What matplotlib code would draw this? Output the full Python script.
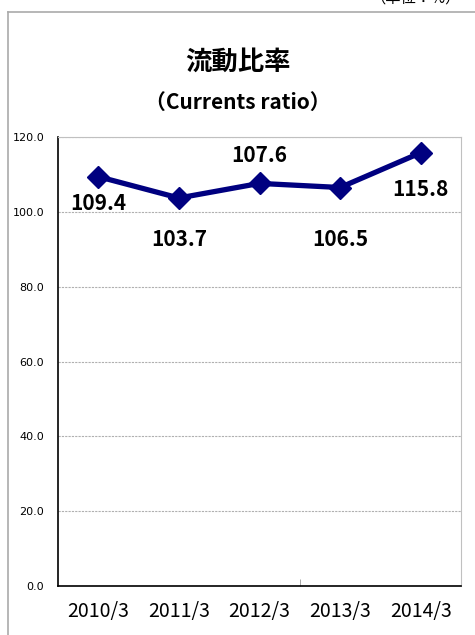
import matplotlib
matplotlib.use("Agg")
import matplotlib.pyplot as plt
from matplotlib.lines import Line2D

plt.rcParams['font.family'] = ['Noto Sans CJK JP', 'DejaVu Sans']

# data
years = ["2010/3", "2011/3", "2012/3", "2013/3", "2014/3"]
ratio = [109.4, 103.7, 107.6, 106.5, 115.8]
yticks = [0, 20, 40, 60, 80, 100, 120]

# label offsets (pixels, vertical)
label_dy = [-27, -42, 28, -52, -37]

fig = plt.figure(figsize=(4.75, 6.35), dpi=100)
ax = fig.add_axes([58/475, 49/635, 403/475, 449/635])

x = list(range(len(years)))
ax.plot(x, ratio, color="#000080", linewidth=3.8, marker="D", markersize=11,
        zorder=3, clip_on=False)

for xi, v, dy in zip(x, ratio, label_dy):
    ax.annotate(f"{v:.1f}", (xi, v), xytext=(0, dy), textcoords="offset pixels",
                ha="center", va="center", fontsize=15, fontweight="bold")

ax.set_xlim(-0.5, len(years) - 0.5)
ax.set_ylim(0, 120)
ax.set_yticks(yticks)
ax.set_yticklabels([f"{t:.1f}" for t in yticks], fontsize=8,
                   family=["DejaVu Sans"])
ax.set_xticks(x)
ax.set_xticklabels(years, fontsize=14)
ax.tick_params(axis="x", length=0, pad=11)
ax.tick_params(axis="y", length=0, pad=10)
ax.set_xticks([2.5], minor=True)
ax.tick_params(axis="x", which="minor", direction="in", length=5, color="#999999")

ax.grid(axis="y", color="#b0b0b0", linestyle=(0, (2, 1)), linewidth=0.8)
ax.set_axisbelow(True)
for s in ["top", "right"]:
    ax.spines[s].set_color("#c0c0c0")
    ax.spines[s].set_linewidth(0.8)
for s in ["left", "bottom"]:
    ax.spines[s].set_color("black")
    ax.spines[s].set_linewidth(1.2)

fig.text(0.5, 1 - 62/635, "流動比率", ha="center", va="center",
         fontsize=19, fontweight="bold")
fig.text(0.5, 1 - 102/635, "（Currents ratio）", ha="center", va="center",
         fontsize=15, fontweight="bold")
# unit note, cut off by the top edge in the reference
fig.text(416/475, 1 - 3/635, "（単位：%）", ha="center", va="baseline", fontsize=11)

# outer frame
fig.add_artist(Line2D([8/475, 8/475], [0, 1 - 12/635], color="#aaaaaa",
                      linewidth=1.2, transform=fig.transFigure))
fig.add_artist(Line2D([8/475, 1], [1 - 12/635, 1 - 12/635], color="#aaaaaa",
                      linewidth=1.2, transform=fig.transFigure))

fig.savefig("out.png", dpi=100)
